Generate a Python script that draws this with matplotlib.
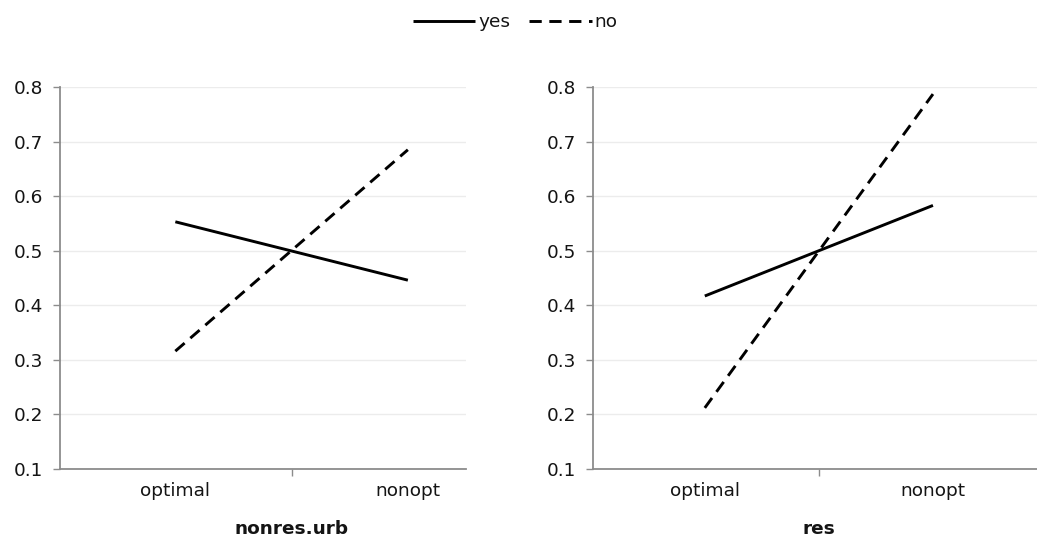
import matplotlib
matplotlib.use("Agg")
import matplotlib.pyplot as plt
import matplotlib.transforms as mtransforms

plt.rcParams['font.family'] = ['DejaVu Sans']

categories = ["optimal", "nonopt"]
panels = ["nonres.urb", "res"]
yes_vals = {"nonres.urb": [0.553, 0.446], "res": [0.417, 0.583]}
no_vals = {"nonres.urb": [0.316, 0.685], "res": [0.212, 0.787]}
yticks = [0.1, 0.2, 0.3, 0.4, 0.5, 0.6, 0.7, 0.8]

W, H = 1037, 540
fig = plt.figure(figsize=(W / 100, H / 100), dpi=100)

axes_px = [(60, 466, -0.496, 1.25), (593, 1037, -0.49, 1.456)]
text_col = "#141414"
axis_col = "#8c8c8c"
fs = 13.3

handles = None
for (x0, x1, xl, xr), name in zip(axes_px, panels):
    ax = fig.add_axes([x0 / W, (H - 469) / H, (x1 - x0) / W, (469 - 87) / H])
    xs = list(range(len(categories)))
    l1, = ax.plot(xs, yes_vals[name], color="black", lw=2.1, solid_capstyle="butt")
    l2, = ax.plot(xs, no_vals[name], color="black", lw=2.1, linestyle=(0, (4.2, 2.6)),
                  dash_capstyle="butt")
    handles = (l1, l2)
    ax.set_xlim(xl, xr)
    ax.set_ylim(0.1, 0.8)
    ax.set_yticks(yticks)
    ax.set_yticklabels([f"{v:.1f}" for v in yticks])
    ax.set_xticks(xs)
    ax.set_xticklabels(categories)
    ax.set_xticks([0.5], minor=True)
    ax.tick_params(axis="x", which="major", length=0, pad=9, labelsize=fs, labelcolor=text_col)
    ax.tick_params(axis="x", which="minor", length=5, width=1, color=axis_col, direction="out")
    ax.tick_params(axis="y", length=5, width=1, color=axis_col, direction="out", pad=7,
                   labelsize=fs, labelcolor=text_col)
    for s in ["top", "right"]:
        ax.spines[s].set_visible(False)
    for s in ["left", "bottom"]:
        ax.spines[s].set_color(axis_col)
        ax.spines[s].set_linewidth(1.3)
    ax.grid(axis="y", color="#ececec", lw=1)
    ax.set_axisbelow(True)
    trans = mtransforms.blended_transform_factory(ax.transData, fig.transFigure)
    ax.text(0.5, 1 - 529 / H, name, transform=trans, ha="center", va="center",
            fontsize=fs, fontweight="bold", color=text_col)

leg = fig.legend(handles, ["yes", "no"], loc="center", bbox_to_anchor=(515 / W, 1 - 22 / H),
                 ncol=2, frameon=False, handlelength=3.4, handletextpad=0.15,
                 columnspacing=1.0, fontsize=fs)
for t in leg.get_texts():
    t.set_color(text_col)

fig.savefig("out.png", dpi=100)
